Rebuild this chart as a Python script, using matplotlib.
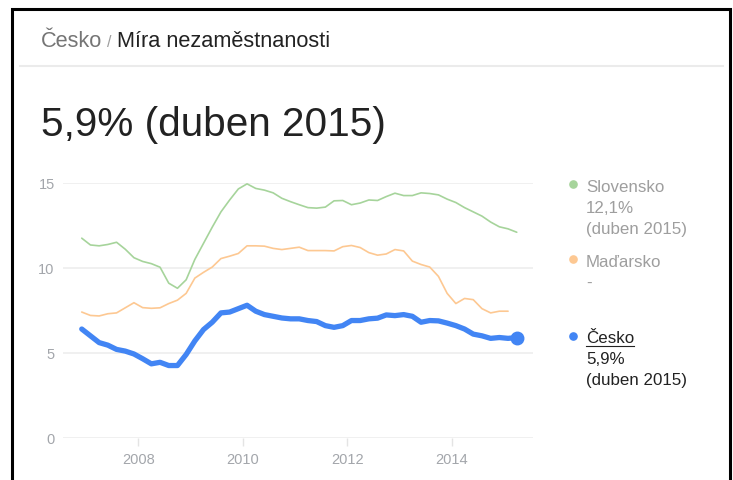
import matplotlib
matplotlib.use("Agg")
import matplotlib.pyplot as plt
from matplotlib.lines import Line2D
import numpy as np
import pandas as pd

plt.rcParams['font.family'] = ['Liberation Sans', 'DejaVu Sans']

# ---- data (bi-monthly readings, Dec 2006 .. Apr 2015) ----
dates = pd.date_range('2006-12-01', '2015-04-01', freq='2MS')
cz = [6.4, 6.0, 5.6, 5.45, 5.2, 5.1, 4.93, 4.65, 4.35, 4.44,
      4.25, 4.25, 4.9, 5.7, 6.37, 6.8, 7.35, 7.4, 7.6, 7.8,
      7.45, 7.25, 7.15, 7.05, 7.0, 7.0, 6.9, 6.84, 6.6, 6.5,
      6.6, 6.9, 6.9, 7.0, 7.04, 7.23, 7.19, 7.25, 7.15, 6.8,
      6.9, 6.88, 6.75, 6.6, 6.4, 6.1, 6.0, 5.85, 5.9, 5.85, 5.9]
sk = [11.75, 11.35, 11.3, 11.38, 11.51, 11.1, 10.6, 10.38, 10.25, 10.04,
      9.1, 8.8, 9.3, 10.5, 11.45, 12.4, 13.3, 14.0, 14.65, 14.95,
      14.68, 14.58, 14.42, 14.1, 13.9, 13.72, 13.55, 13.52, 13.58, 13.95,
      13.97, 13.72, 13.82, 14.0, 13.97, 14.2, 14.4, 14.26, 14.26, 14.42,
      14.38, 14.3, 14.05, 13.85, 13.55, 13.3, 13.05, 12.7, 12.42, 12.3, 12.1]
hu = [7.4, 7.2, 7.17, 7.3, 7.35, 7.65, 7.95, 7.66, 7.62, 7.65,
      7.9, 8.1, 8.5, 9.4, 9.74, 10.05, 10.55, 10.69, 10.85, 11.3,
      11.3, 11.28, 11.15, 11.08, 11.15, 11.22, 11.02, 11.02, 11.02, 11.0,
      11.25, 11.32, 11.2, 10.9, 10.75, 10.82, 11.08, 11.0, 10.4, 10.2,
      10.05, 9.5, 8.5, 7.9, 8.2, 8.13, 7.6, 7.35, 7.45, 7.45, np.nan]
yticks = [0, 5, 10, 15]
xticks = [2008, 2010, 2012, 2014]

header_country = "Česko"
header_metric = "Míra nezaměstnanosti"
big_title = "5,9% (duben 2015)"
legend_names = ["Slovensko", "Maďarsko", "Česko"]
legend_lines = [["12,1%", "(duben 2015)"], ["-"], ["5,9%", "(duben 2015)"]]

C_CZ = '#4285f4'
C_SK = '#a6d49b'
C_HU = '#fdc892'

W, H = 733, 481
fig = plt.figure(figsize=(W / 100, H / 100), dpi=100)

def fx(px):
    return px / W

def fy(py):
    return 1 - py / H

x = dates.year + (dates.month - 1) / 12.0

# axes placement in pixels
left, right = 63, 533
y0px, y15px = 438.7, 184.0
ax = fig.add_axes([fx(left), fy(y0px), (right - left) / W, (y0px - y15px) / H])
xmin = 2008 + (left - 138.3) / 52.2
xmax = 2008 + (right - 138.3) / 52.2
ax.set_xlim(xmin, xmax)
ax.set_ylim(0, 15)

ax.plot(x, sk, color=C_SK, lw=1.2, clip_on=False, solid_capstyle='round')
ax.plot(x, hu, color=C_HU, lw=1.2, clip_on=False, solid_capstyle='round')
ax.plot(x, cz, color=C_CZ, lw=3.8, clip_on=False, solid_capstyle='round',
        solid_joinstyle='round')
ax.plot([x[-1]], [cz[-1]], 'o', color=C_CZ, ms=9, clip_on=False)

for s in ax.spines.values():
    s.set_visible(False)
ax.set_yticks(yticks)
ax.set_yticklabels([str(v) for v in yticks])
ax.set_xticks(xticks)
ax.set_xticklabels([str(v) for v in xticks])
ax.grid(axis='y', color='#eeeeee', lw=1.2)
ax.set_axisbelow(True)
ax.tick_params(axis='y', length=0, pad=6, labelsize=10.5, labelcolor='#a3a6ab')
ax.tick_params(axis='x', length=6, width=1, color='#e4e4e4', pad=4,
               labelsize=10.5, labelcolor='#a3a6ab')

# header
fig.canvas.draw()
r = fig.canvas.get_renderer()
t1 = fig.text(fx(41), fy(46.7), header_country, fontsize=15.7, color='#757575',
              va='baseline', ha='left')
bb = t1.get_window_extent(r)
t2 = fig.text((bb.x1 + 5) / W, fy(46.7), "/", fontsize=11.5, color='#9e9e9e',
              va='baseline', ha='left')
bb2 = t2.get_window_extent(r)
fig.text((bb2.x1 + 5) / W, fy(46.7), header_metric, fontsize=15.7, color='#222222',
         va='baseline', ha='left')

# separator line under header
fig.add_artist(Line2D([fx(20), fx(723)], [fy(66.5), fy(66.5)], color='#ebebeb', lw=1.5))

# big value title
fig.text(fx(41), fy(136), big_title, fontsize=29.2, color='#222222',
         va='baseline', ha='left')

# legend
leg_x_dot, leg_x_txt = 572.7, 586
leg_base = [191.7, 266.7, 343.3]
leg_colors = [C_SK, C_HU, C_CZ]
txt_colors = ['#9e9e9e', '#9e9e9e', '#222222']
for name, lines, yb, dc, tc in zip(legend_names, legend_lines, leg_base, leg_colors, txt_colors):
    fig.add_artist(Line2D([fx(leg_x_dot)], [fy(yb - 6.5)], marker='o', ms=5.2,
                          color=dc, lw=0))
    tn = fig.text(fx(leg_x_txt), fy(yb), name, fontsize=12.2, color=tc,
                  va='baseline', ha='left')
    if name == "Česko":
        bbn = tn.get_window_extent(r)
        fig.add_artist(Line2D([bbn.x0 / W, bbn.x1 / W], [fy(yb + 3.5), fy(yb + 3.5)],
                              color=tc, lw=0.8))
    for i, ln in enumerate(lines):
        fig.text(fx(leg_x_txt), fy(yb + 21 * (i + 1)), ln, fontsize=12.2, color=tc,
                 va='baseline', ha='left')

# outer black frame (left, top, right)
fig.add_artist(Line2D([fx(12), fx(12), fx(730), fx(730)],
                      [0, fy(10), fy(10), 0], color='black', lw=2.2,
                      solid_joinstyle='miter'))

fig.savefig('out.png', dpi=100)
